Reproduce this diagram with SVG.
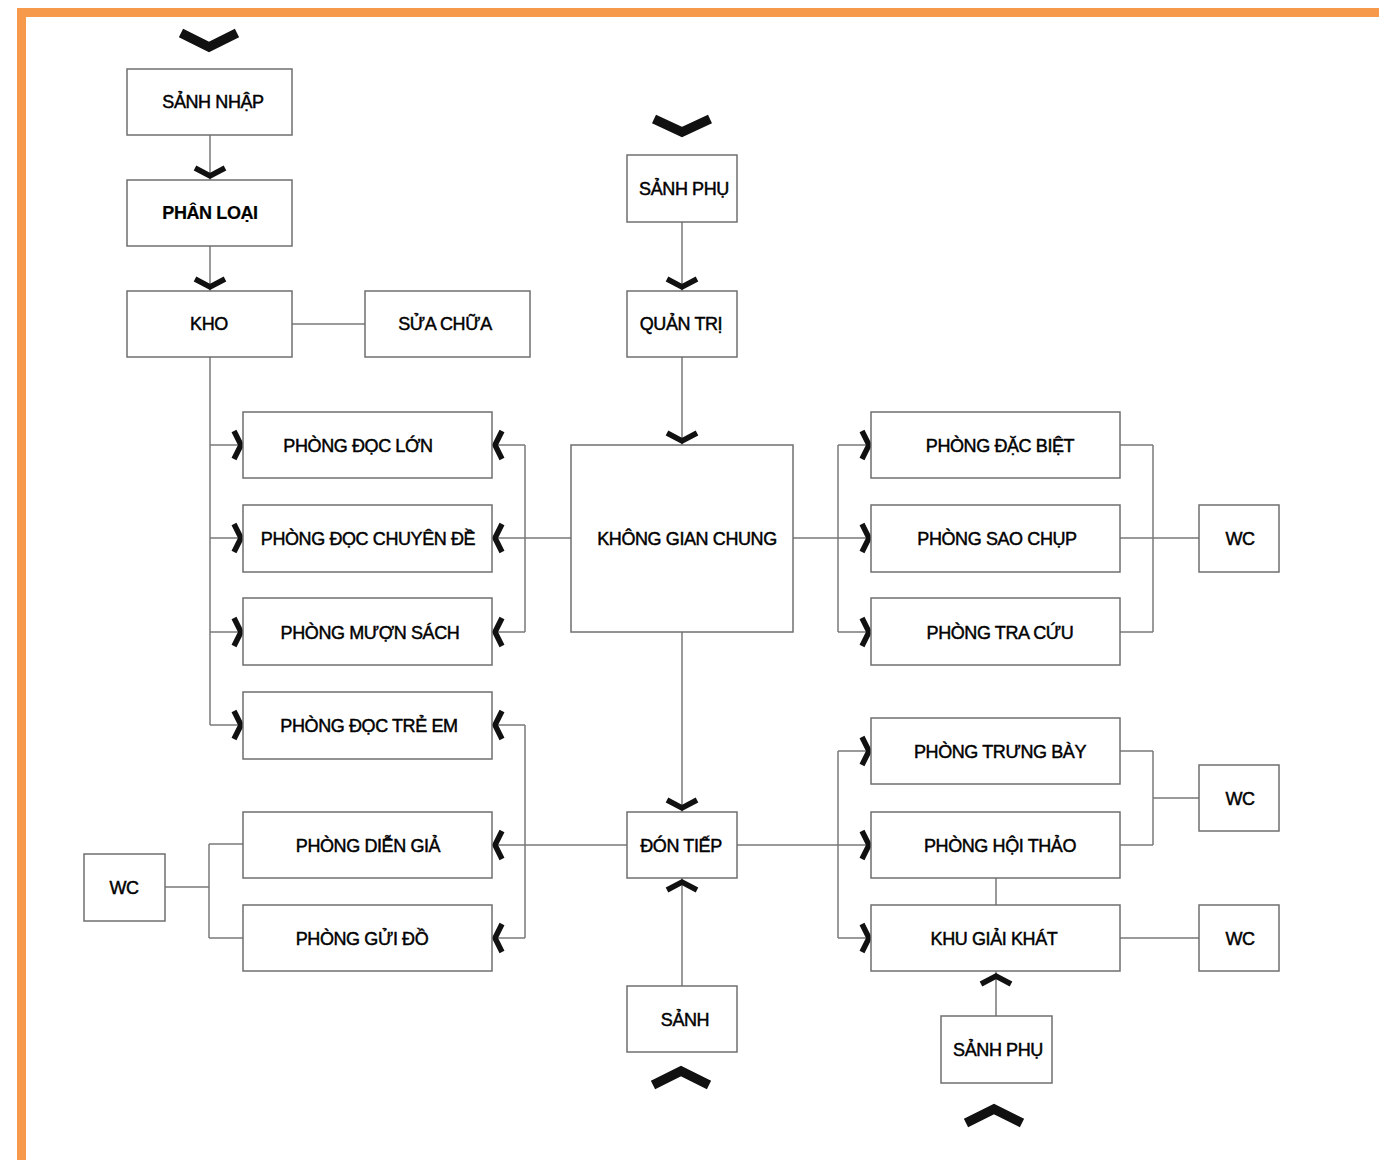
<svg xmlns="http://www.w3.org/2000/svg" width="1379" height="1160" viewBox="0 0 1379 1160">
<style>
.bx{fill:#fff;stroke:#6f6f6f;stroke-width:1.5}
.t{font-family:"Liberation Sans",Arial,sans-serif;font-size:18px;fill:#000;stroke:#000;stroke-width:0.45;text-anchor:middle;letter-spacing:-0.4px}
.b{font-weight:bold;stroke-width:0.2}
.ln{fill:none;stroke:#7a7a7a;stroke-width:1.5}
.ch{fill:none;stroke:#111;stroke-width:5.5;stroke-linejoin:miter;stroke-linecap:butt}
.bg{fill:none;stroke:#111;stroke-width:9.5;stroke-linejoin:miter;stroke-linecap:butt}
</style>
<rect x="0" y="0" width="1379" height="1160" fill="#fff"/>
<rect x="17" y="8" width="1362" height="9" fill="#F7994A"/>
<rect x="17" y="8" width="9" height="1152" fill="#F7994A"/>

<g id="connectors">
<path class="ln" d="M210 135V180M210 246V291M292 324H365M682 222V291M682 357V445"/>
<path class="ln" d="M210 357V725M210 445H240M210 538H240M210 632H240M210 725H240"/>
<path class="ln" d="M571 538H525M525 445V632M525 445H495M525 538H495M525 632H495"/>
<path class="ln" d="M793 538H868M838 445V632M838 445H868M838 632H868"/>
<path class="ln" d="M1120 445H1153M1120 538H1199M1120 632H1153M1153 445V632"/>
<path class="ln" d="M682 632V812M682 986V878"/>
<path class="ln" d="M627 845H525M525 725V938M525 725H495M525 845H495M525 938H495"/>
<path class="ln" d="M737 845H868M838 751V938M838 751H868M838 938H868"/>
<path class="ln" d="M1120 751H1153M1120 845H1153M1153 751V845M1153 798H1199"/>
<path class="ln" d="M996 878V905M1120 938H1199M996 1016V971"/>
<path class="ln" d="M165 887H209M209 844V938M209 844H243M209 938H243"/>
<!-- big chevrons -->
<polyline class="bg" points="181,33 209,47 237,33"/>
<polyline class="bg" points="654,119 682,132 710,119"/>
<polyline class="bg" points="653,1085 681,1071 709,1085"/>
<polyline class="bg" points="966,1123 994,1109 1022,1123"/>
<!-- small down chevrons -->
<polyline class="ch" points="195,168 210,176 225,168"/>
<polyline class="ch" points="195,279 210,287 225,279"/>
<polyline class="ch" points="667,279 682,287 697,279"/>
<polyline class="ch" points="667,433 682,441 697,433"/>
<polyline class="ch" points="667,800 682,808 697,800"/>
<!-- small up chevrons -->
<polyline class="ch" points="667,890 682,882 697,890"/>
<polyline class="ch" points="981,984 996,976 1011,984"/>
<!-- right-pointing chevrons (left column) -->
<polyline class="ch" points="234,431 241,445 234,459"/>
<polyline class="ch" points="234,524 241,538 234,552"/>
<polyline class="ch" points="234,618 241,632 234,646"/>
<polyline class="ch" points="234,711 241,725 234,739"/>
<!-- left-pointing chevrons -->
<polyline class="ch" points="502,431 495,445 502,459"/>
<polyline class="ch" points="502,524 495,538 502,552"/>
<polyline class="ch" points="502,618 495,632 502,646"/>
<polyline class="ch" points="502,711 495,725 502,739"/>
<polyline class="ch" points="502,831 495,845 502,859"/>
<polyline class="ch" points="502,924 495,938 502,952"/>
<!-- right-pointing chevrons (right column) -->
<polyline class="ch" points="862,431 869,445 862,459"/>
<polyline class="ch" points="862,524 869,538 862,552"/>
<polyline class="ch" points="862,618 869,632 862,646"/>
<polyline class="ch" points="862,737 869,751 862,765"/>
<polyline class="ch" points="862,831 869,845 862,859"/>
<polyline class="ch" points="862,924 869,938 862,952"/>
</g>

<g id="sanh-nhap"><rect class="bx" x="127" y="69" width="165" height="66"/><text class="t" x="213" y="108">SẢNH NHẬP</text></g>
<g id="phan-loai"><rect class="bx" x="127" y="180" width="165" height="66"/><text class="t b" x="210" y="219">PHÂN LOẠI</text></g>
<g id="kho"><rect class="bx" x="127" y="291" width="165" height="66"/><text class="t" x="209" y="330">KHO</text></g>
<g id="sua-chua"><rect class="bx" x="365" y="291" width="165" height="66"/><text class="t" x="445" y="330">SỬA CHỮA</text></g>
<g id="sanh-phu-top"><rect class="bx" x="627" y="155" width="110" height="67"/><text class="t" x="684" y="195">SẢNH PHỤ</text></g>
<g id="quan-tri"><rect class="bx" x="627" y="291" width="110" height="66"/><text class="t" x="681" y="330">QUẢN TRỊ</text></g>

<g id="phong-doc-lon"><rect class="bx" x="243" y="412" width="249" height="66"/><text class="t" x="358" y="452">PHÒNG ĐỌC LỚN</text></g>
<g id="phong-doc-chuyen-de"><rect class="bx" x="243" y="505" width="249" height="67"/><text class="t" x="368" y="545">PHÒNG ĐỌC CHUYÊN ĐỀ</text></g>
<g id="phong-muon-sach"><rect class="bx" x="243" y="598" width="249" height="67"/><text class="t" x="370" y="639">PHÒNG MƯỢN SÁCH</text></g>
<g id="phong-doc-tre-em"><rect class="bx" x="243" y="692" width="249" height="67"/><text class="t" x="369" y="732">PHÒNG ĐỌC TRẺ EM</text></g>

<g id="khong-gian-chung"><rect class="bx" x="571" y="445" width="222" height="187"/><text class="t" x="687" y="545">KHÔNG GIAN CHUNG</text></g>

<g id="phong-dac-biet"><rect class="bx" x="871" y="412" width="249" height="66"/><text class="t" x="1000" y="452">PHÒNG ĐẶC BIỆT</text></g>
<g id="phong-sao-chup"><rect class="bx" x="871" y="505" width="249" height="67"/><text class="t" x="997" y="545">PHÒNG SAO CHỤP</text></g>
<g id="phong-tra-cuu"><rect class="bx" x="871" y="598" width="249" height="67"/><text class="t" x="1000" y="639">PHÒNG TRA CỨU</text></g>
<g id="wc-1"><rect class="bx" x="1199" y="505" width="80" height="67"/><text class="t" x="1240" y="545">WC</text></g>

<g id="phong-trung-bay"><rect class="bx" x="871" y="718" width="249" height="66"/><text class="t" x="1000" y="758">PHÒNG TRƯNG BÀY</text></g>
<g id="phong-hoi-thao"><rect class="bx" x="871" y="812" width="249" height="66"/><text class="t" x="1000" y="852">PHÒNG HỘI THẢO</text></g>
<g id="khu-giai-khat"><rect class="bx" x="871" y="905" width="249" height="66"/><text class="t" x="994" y="945">KHU GIẢI KHÁT</text></g>
<g id="wc-2"><rect class="bx" x="1199" y="765" width="80" height="66"/><text class="t" x="1240" y="805">WC</text></g>
<g id="wc-3"><rect class="bx" x="1199" y="905" width="80" height="66"/><text class="t" x="1240" y="945">WC</text></g>
<g id="sanh-phu-bottom"><rect class="bx" x="941" y="1016" width="111" height="67"/><text class="t" x="998" y="1056">SẢNH PHỤ</text></g>

<g id="don-tiep"><rect class="bx" x="627" y="812" width="110" height="66"/><text class="t" x="681" y="852">ĐÓN TIẾP</text></g>
<g id="sanh"><rect class="bx" x="627" y="986" width="110" height="66"/><text class="t" x="685" y="1026">SẢNH</text></g>

<g id="phong-dien-gia"><rect class="bx" x="243" y="812" width="249" height="66"/><text class="t" x="368" y="852">PHÒNG DIỄN GIẢ</text></g>
<g id="phong-gui-do"><rect class="bx" x="243" y="905" width="249" height="66"/><text class="t" x="362" y="945">PHÒNG GỬI ĐỒ</text></g>
<g id="wc-4"><rect class="bx" x="84" y="854" width="81" height="67"/><text class="t" x="124" y="894">WC</text></g>
</svg>
